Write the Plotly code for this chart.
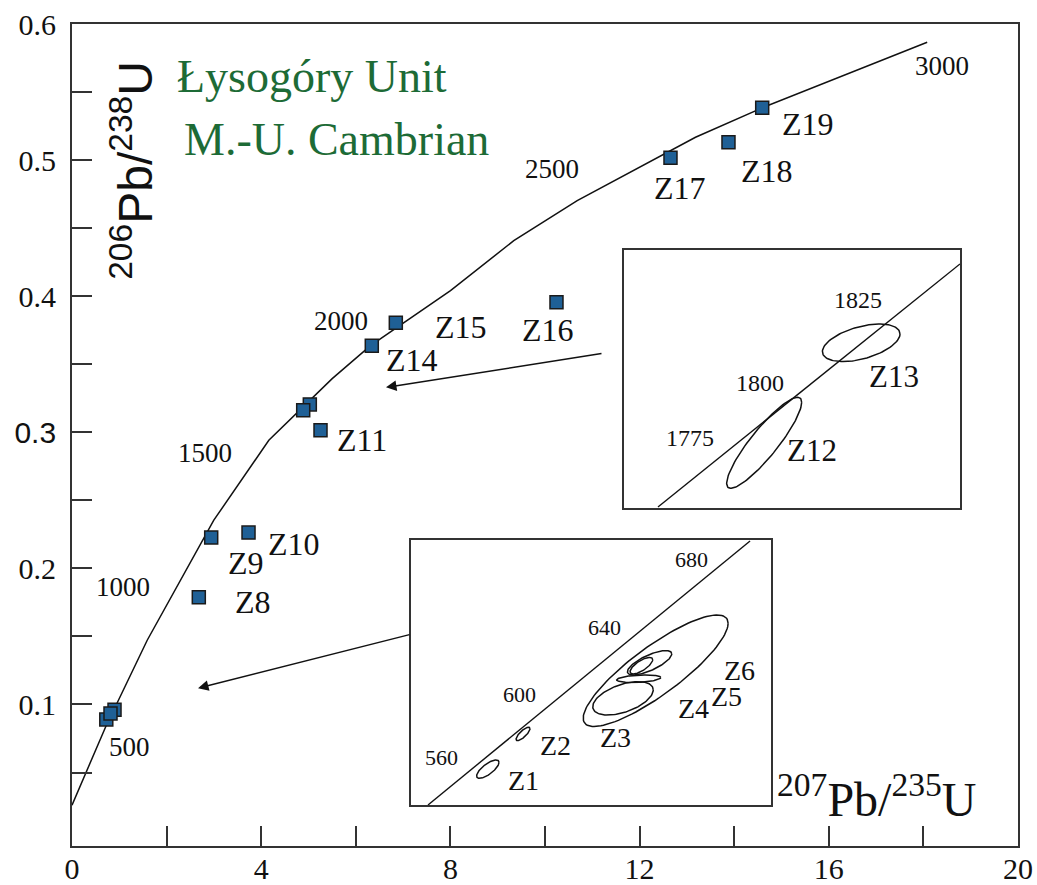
import numpy as np
import plotly.graph_objects as go

# ---------------- data ----------------
# main concordia polyline
conc_x = [0.0, 0.708, 1.590, 2.294, 2.998, 4.161, 5.501, 6.311, 8.002, 9.340, 10.681, 13.182, 14.592, 18.080]
conc_y = [0.026, 0.0833, 0.1472, 0.1913, 0.2354, 0.2941, 0.3394, 0.3637, 0.4041, 0.4408, 0.4702, 0.5168, 0.5384, 0.5866]

age_text = ["500", "1000", "1500", "2000", "2500", "3000"]
age_x = [1.220, 1.078, 2.822, 5.683, 10.152, 18.398]
age_y = [0.0689, 0.1864, 0.2851, 0.3816, 0.4936, 0.5695]

# zircon analyses (207Pb/235U, 206Pb/238U), drawing order
pt_x = [0.725, 0.899, 0.814, 2.681, 2.943, 3.732, 5.028, 4.888, 5.254, 6.338, 6.846, 10.243, 12.653, 13.879, 14.592]
pt_y = [0.0890, 0.0961, 0.0934, 0.1788, 0.2227, 0.2263, 0.3205, 0.3161, 0.3015, 0.3636, 0.3805, 0.3955, 0.5017, 0.5132, 0.5384]

zlab = ["Z8", "Z9", "Z10", "Z11", "Z14", "Z15", "Z16", "Z17", "Z18", "Z19"]
zlab_x = [3.827, 3.685, 4.689, 6.135, 7.192, 8.230, 10.060, 12.844, 14.697, 15.556]
zlab_y = [0.1754, 0.2036, 0.2182, 0.2941, 0.3532, 0.3771, 0.3755, 0.4795, 0.4917, 0.5262]

# axes ticks
ytick_vals = [0.05, 0.1, 0.15, 0.2, 0.25, 0.3, 0.35, 0.4, 0.45, 0.5, 0.55, 0.6]
ytick_text = ["", "0.1", "", "0.2", "", "<span style='font-family:Liberation Sans'>0.3</span>", "", "0.4", "", "0.5", "", "0.6"]
xtick_vals = [0, 2, 4, 6, 8, 10, 12, 14, 16, 18, 20]
xtick_text = ["0", "", "4", "", "8", "", "12", "", "16", "", "20"]

# inset 1 (Z1-Z6), concordia segment and ellipses (x, sx, y, sy, rho)
in1_conc_x = [0.6833, 0.9740]
in1_conc_y = [0.0858, 0.1133]
in1_cx = [0.7373, 0.7691, 0.8888, 0.8593, 0.8735, 0.8833, 0.8759]
in1_sx = [0.0101, 0.0063, 0.0654, 0.0273, 0.0199, 0.0200, 0.0102]
in1_cy = [0.08953, 0.09320, 0.09978, 0.09691, 0.09895, 0.10061, 0.10031]
in1_sy = [0.00096, 0.00070, 0.00581, 0.00174, 0.00040, 0.00127, 0.00086]
in1_rho = [0.74, 0.79, 0.85, 0.50, 0.30, 0.73, 0.72]
in1_age_text = ["560", "600", "640", "680"]
in1_age_x = [0.6957, 0.7655, 0.8422, 0.9207]
in1_age_y = [0.09070, 0.09726, 0.10429, 0.11132]
in1_lab = ["Z1", "Z2", "Z3", "Z4", "Z5", "Z6"]
in1_lab_x = [0.7691, 0.7980, 0.8521, 0.9234, 0.9523, 0.9649]
in1_lab_y = [0.0884, 0.09195, 0.09278, 0.0958, 0.09708, 0.0998]

# inset 2 (Z12, Z13)
in2_conc_x = [4.672, 5.1874]
in2_conc_y = [0.31448, 0.33275]
in2_cx = [4.8532, 5.0188]
in2_sx = [0.0640, 0.0662]
in2_cy = [0.3193, 0.32682]
in2_sy = [0.00342, 0.00141]
in2_rho = [0.89, 0.47]
in2_age_text = ["1775", "1800", "1825"]
in2_age_x = [4.7266, 4.846, 5.0125]
in2_age_y = [0.31966, 0.32380, 0.33004]
in2_lab = ["Z12", "Z13"]
in2_lab_x = [4.9343, 5.0747]
in2_lab_y = [0.31870, 0.32425]

# arrows: head (x, y) and tail (x, y)
arr_head_x = [2.664, 6.638]
arr_head_y = [0.1120, 0.3330]
arr_tail_x = [7.167, 11.226]
arr_tail_y = [0.1516, 0.3580]

# ---------------- style ----------------
SERIF = "Liberation Serif, Times New Roman, serif"
SANS = "Liberation Sans, Arial, sans-serif"
AXC = "#333333"
MFILL = "#1f6096"
GREEN = "#1d6b36"


def ellipse(cx, sx, cy, sy, rho, n=120):
    t = np.linspace(0, 2 * np.pi, n)
    x = cx + sx * np.cos(t)
    y = cy + sy * (rho * np.cos(t) + np.sqrt(1 - rho ** 2) * np.sin(t))
    return x, y


fig = go.Figure()

fig.add_trace(go.Scatter(x=conc_x, y=conc_y, mode="lines",
                         line=dict(color="#111111", width=1.5),
                         hoverinfo="skip", showlegend=False))
fig.add_trace(go.Scatter(x=pt_x, y=pt_y, mode="markers",
                         marker=dict(symbol="square", size=13, color=MFILL,
                                     line=dict(color="#1a1a1a", width=1.5)),
                         showlegend=False))

# inset 1
fig.add_trace(go.Scatter(x=in1_conc_x, y=in1_conc_y, mode="lines", xaxis="x2", yaxis="y2",
                         line=dict(color="#111111", width=1.4), showlegend=False))
for cx, sx, cy, sy, r in zip(in1_cx, in1_sx, in1_cy, in1_sy, in1_rho):
    ex, ey = ellipse(cx, sx, cy, sy, r)
    fig.add_trace(go.Scatter(x=ex, y=ey, mode="lines", xaxis="x2", yaxis="y2",
                             line=dict(color="#111111", width=1.5), showlegend=False))
# inset 2
fig.add_trace(go.Scatter(x=in2_conc_x, y=in2_conc_y, mode="lines", xaxis="x3", yaxis="y3",
                         line=dict(color="#111111", width=1.4), showlegend=False))
for cx, sx, cy, sy, r in zip(in2_cx, in2_sx, in2_cy, in2_sy, in2_rho):
    ex, ey = ellipse(cx, sx, cy, sy, r)
    fig.add_trace(go.Scatter(x=ex, y=ey, mode="lines", xaxis="x3", yaxis="y3",
                             line=dict(color="#111111", width=1.5), showlegend=False))

ann = []


def label(x, y, t, xref, yref, size, family=SERIF, color="#111111", **kw):
    d = dict(x=x, y=y, xref=xref, yref=yref, text=t, showarrow=False,
             xanchor="center", yanchor="middle",
             font=dict(family=family, size=size, color=color))
    d.update(kw)
    ann.append(d)


for t, x, y in zip(age_text, age_x, age_y):
    label(x, y, t, "x", "y", 27)
for t, x, y in zip(zlab, zlab_x, zlab_y):
    label(x, y, t, "x", "y", 32)
for t, x, y in zip(in1_age_text, in1_age_x, in1_age_y):
    label(x, y, t, "x2", "y2", 22)
for t, x, y in zip(in1_lab, in1_lab_x, in1_lab_y):
    label(x, y, t, "x2", "y2", 28)
for t, x, y in zip(in2_age_text, in2_age_x, in2_age_y):
    label(x, y, t, "x3", "y3", 24)
for t, x, y in zip(in2_lab, in2_lab_x, in2_lab_y):
    label(x, y, t, "x3", "y3", 31)
for hx, hy, tx, ty in zip(arr_head_x, arr_head_y, arr_tail_x, arr_tail_y):
    ann.append(dict(x=hx, y=hy, ax=tx, ay=ty, xref="x", yref="y", axref="x", ayref="y",
                    text="", showarrow=True, arrowhead=2, arrowsize=1.4, arrowwidth=1.5,
                    arrowcolor="#111111", standoff=0, startstandoff=0))

# titles
label(0.2537, 0.936, "Łysogóry Unit", "paper", "paper", 46, color=GREEN)
label(0.2795, 0.859, "M.-U. Cambrian", "paper", "paper", 46, color=GREEN)
label(0.064, 0.822, "<sup>206</sup>Pb/<sup>238</sup>U", "paper", "paper", 48,
      family=SANS, textangle=-90)
label(0.850, 0.061, "<sup>207</sup>Pb/<sup>235</sup>U", "paper", "paper", 48)

inset_axis = dict(showline=True, mirror=True, linecolor=AXC, linewidth=1.5,
                  showticklabels=False, ticks="", showgrid=False, zeroline=False,
                  automargin=False)

fig.update_layout(
    width=1037, height=885,
    margin=dict(l=72, r=19, t=24, b=39),
    paper_bgcolor="white", plot_bgcolor="white",
    showlegend=False,
    xaxis=dict(range=[0, 20], tickmode="array", tickvals=xtick_vals, ticktext=xtick_text,
               ticks="inside", ticklen=20, tickwidth=1.5, tickcolor=AXC,
               showline=True, mirror=True, linecolor=AXC, linewidth=1.8,
               showgrid=False, zeroline=False, automargin=False, ticklabelstandoff=-5,
               tickfont=dict(family=SERIF, size=30, color="#111111")),
    yaxis=dict(range=[-0.004, 0.6], tickmode="array", tickvals=ytick_vals, ticktext=ytick_text,
               ticks="inside", ticklen=20, tickwidth=1.5, tickcolor=AXC,
               showline=True, mirror=True, linecolor=AXC, linewidth=1.8,
               showgrid=False, zeroline=False, ticklabelstandoff=8, automargin=False,
               tickfont=dict(family=SERIF, size=30, color="#111111")),
    xaxis2=dict(domain=[0.3584, 0.7389], range=[0.668, 0.9929], anchor="y2", **inset_axis),
    yaxis2=dict(domain=[0.0499, 0.3723], range=[0.0858, 0.1134], anchor="x2", **inset_axis),
    xaxis3=dict(domain=[0.5835, 0.9387], range=[4.614, 5.1874], anchor="y3", **inset_axis),
    yaxis3=dict(domain=[0.4112, 0.7251], range=[0.3144, 0.3338], anchor="x3", **inset_axis),
    annotations=ann,
)

fig.write_html("out.html")
